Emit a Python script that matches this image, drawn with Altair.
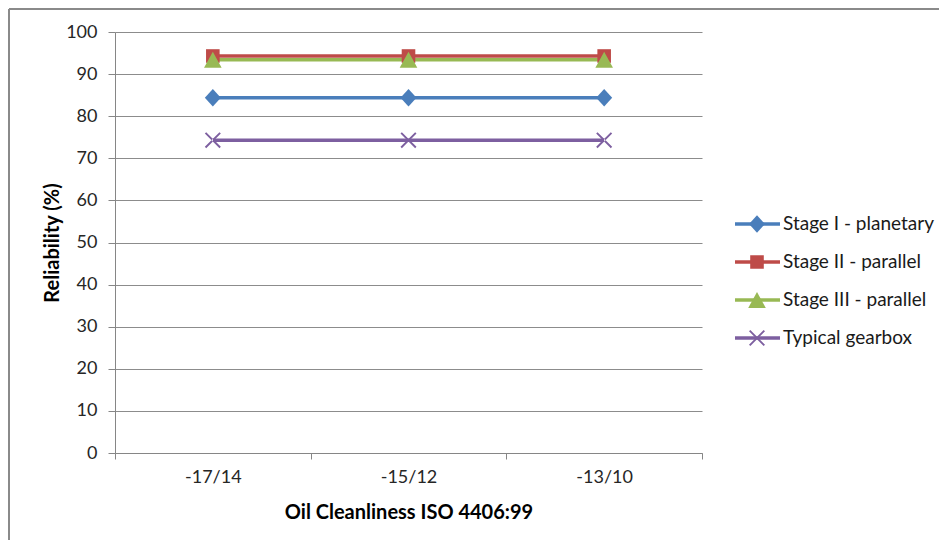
import altair as alt
import pandas as pd

categories = ["-17/14", "-15/12", "-13/10"]
series = ["Stage I - planetary", "Stage II - parallel", "Stage III - parallel", "Typical gearbox"]
stage1 = [84.4, 84.4, 84.4]
stage2 = [94.3, 94.3, 94.3]
stage3 = [93.4, 93.4, 93.4]
typical = [74.3, 74.3, 74.3]
colors = ["#4A7EBB", "#BE4B48", "#98B954", "#7D5FA0"]

diamond = "M0,-1.1L1,0L0,1.1L-1,0Z"
square = "M-0.85,-0.85L0.85,-0.85L0.85,0.85L-0.85,0.85Z"
triangle = "M0,-1L1.1,1L-1.1,1Z"
xmark = "M-1,-0.83L-0.83,-1L1,0.83L0.83,1Z M-1,0.83L-0.83,1L1,-0.83L0.83,-1Z"
shapes = [diamond, square, triangle, xmark]

# marker keys differ from series names so that the marker legend is kept apart
markers = [s + " " for s in series]

rows = []
for name, mk, vals in zip(series, markers, [stage1, stage2, stage3, typical]):
    for i, (c, v) in enumerate(zip(categories, vals)):
        rows.append({"series": name, "marker": mk, "category": c, "pos": i + 0.5, "value": v})
df = pd.DataFrame(rows)

FONT = "Lato"
W, H = 587, 421
PL, PT = 107, 24
LX, LY = 618, 173

label_expr = "datum.value % 1 == 0 ? '' : " + str(categories) + "[floor(datum.value)]"

x_enc = alt.X(
    "pos:Q",
    scale=alt.Scale(domain=[0, 3], nice=False, zero=False),
    axis=alt.Axis(
        values=[0, 0.5, 1, 1.5, 2, 2.5, 3],
        labelExpr=label_expr,
        tickOpacity={"condition": {"test": "datum.value % 1 == 0", "value": 1}, "value": 0},
        grid=False,
        title="Oil Cleanliness ISO 4406:99",
        tickSize=6,
        labelPadding=9,
        titlePadding=16,
    ),
)
y_enc = alt.Y(
    "value:Q",
    scale=alt.Scale(domain=[0, 100], nice=False),
    axis=alt.Axis(
        values=list(range(0, 101, 10)),
        grid=True,
        title="Reliability (%)",
        tickSize=7,
        labelPadding=11,
        titlePadding=3,
    ),
)

base = alt.Chart(df)

lines = base.mark_line(strokeWidth=3.5).encode(
    x=x_enc,
    y=y_enc,
    stroke=alt.Stroke(
        "series:N",
        scale=alt.Scale(domain=series, range=colors),
        legend=alt.Legend(
            title=None,
            orient="none",
            legendX=LX,
            legendY=LY,
            symbolType="stroke",
            symbolSize=2025,
            symbolStrokeWidth=3.5,
            clipHeight=38,
            rowPadding=0,
            padding=0,
            labelOffset=1,
            labelFontSize=19,
            labelFont=FONT,
            labelColor="#1a1a1a",
            labelLimit=300,
        ),
    ),
    order=alt.Order("pos:Q"),
)

pt_legend = alt.Legend(
    title=None,
    orient="none",
    legendX=LX + 14.5,
    legendY=LY,
    symbolSize=256,
    symbolOpacity=1,
    symbolStrokeWidth=0,
    clipHeight=38,
    rowPadding=0,
    padding=0,
    labelExpr="''",
    labelFontSize=19,
    labelFont=FONT,
)

points = base.mark_point(filled=True, size=256, opacity=1, strokeWidth=0).encode(
    x="pos:Q",
    y="value:Q",
    fill=alt.Fill("marker:N", scale=alt.Scale(domain=markers, range=colors), legend=pt_legend),
    shape=alt.Shape("marker:N", scale=alt.Scale(domain=markers, range=shapes), legend=pt_legend),
)

frame_data = alt.Data(values=[{"k": 1}])
top_rule = alt.Chart(frame_data).mark_rule(color="#8a8a8a", strokeWidth=2).encode(
    x=alt.value(-PL + 1), x2=alt.value(W + 300), y=alt.value(-PT + 1)
)
left_rule = alt.Chart(frame_data).mark_rule(color="#8a8a8a", strokeWidth=2).encode(
    x=alt.value(-PL + 1), y=alt.value(-PT + 1), y2=alt.value(H + 200)
)

chart = (
    alt.layer(lines, points, top_rule, left_rule)
    .properties(
        width=W,
        height=H,
        autosize=alt.AutoSizeParams(type="none"),
        padding={"left": PL, "top": PT, "right": 931 - PL - W, "bottom": 532 - PT - H},
    )
    .configure_view(stroke=None)
    .configure_axis(
        labelFont=FONT,
        titleFont=FONT,
        labelFontSize=18,
        titleFontSize=20,
        titleFontWeight="bold",
        labelColor="#262626",
        titleColor="#000000",
        domainColor="#868686",
        tickColor="#868686",
        gridColor="#8c8c8c",
        domainWidth=1,
        tickWidth=1,
        gridWidth=1,
    )
)

chart.save("out.html", embed_options={"renderer": "svg", "actions": False})
